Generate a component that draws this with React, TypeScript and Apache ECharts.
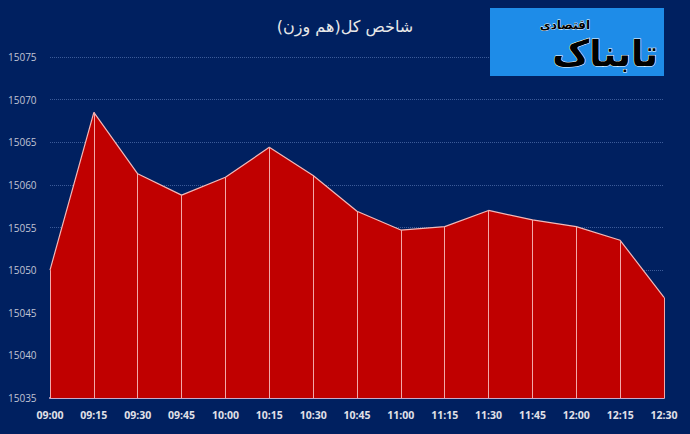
import React, { useEffect, useRef } from "react";
import * as echarts from "echarts";

const TITLE = "شاخص کل(هم وزن)";
const LOGO_MAIN = "تابناک";
const LOGO_SUB = "اقتصادی";
const times = ["09:00", "09:15", "09:30", "09:45", "10:00", "10:15", "10:30", "10:45", "11:00", "11:15", "11:30", "11:45", "12:00", "12:15", "12:30"];
const values = [15050.0, 15068.5, 15061.3, 15058.8, 15060.9, 15064.4, 15061.1, 15056.9, 15054.7, 15055.1, 15057.0, 15055.9, 15055.1, 15053.5, 15046.8];
const yMin = 15035;
const yMax = 15075;
const yStep = 5;

export default function App() {
  const ref = useRef<HTMLDivElement>(null);
  useEffect(() => {
    document.body.style.margin = "0";
    const chart = echarts.init(ref.current!, null, { renderer: "svg" });
    const dropLines = values.map((v, i) => [
      { coord: [i, yMin] },
      { coord: [i, v] },
    ]);
    chart.setOption({
      animation: false,
      backgroundColor: "#002060",
      title: {
        text: TITLE,
        left: 340,
        textAlign: "center",
        top: 13,
        textStyle: { color: "#E8E8E8", fontSize: 16, fontWeight: "normal", fontFamily: "DejaVu Sans" },
      },
      grid: { left: 50, right: 26, top: 57, bottom: 36 },
      xAxis: {
        type: "category",
        data: times,
        boundaryGap: false,
        axisLine: { lineStyle: { color: "#C8A8C8", width: 2 } },
        axisTick: { show: false },
        axisLabel: { color: "#E0E0E8", fontSize: 10.5, fontWeight: "bold", margin: 11, fontFamily: "Open Sans" },
        splitLine: { show: false },
      },
      yAxis: {
        type: "value",
        min: yMin,
        max: yMax,
        interval: yStep,
        axisLine: { show: false },
        axisTick: { show: false },
        axisLabel: {
          color: "#C0C4D4",
          fontSize: 10,
          align: "left",
          margin: 42,
          fontFamily: "Open Sans",
          formatter: (v: number) => String(v),
        },
        splitLine: { lineStyle: { color: "rgba(110,140,200,0.55)", type: [1, 1], width: 1 } },
      },
      series: [
        {
          type: "line",
          data: values,
          symbol: "none",
          lineStyle: { color: "#F2B8B8", width: 1.2 },
          areaStyle: { color: "#C00000", opacity: 1, origin: "start" },
          markLine: {
            silent: true,
            symbol: "none",
            label: { show: false },
            lineStyle: { color: "#F2A8A8", width: 1, type: "solid" },
            data: dropLines,
          },
          z: 2,
        },
      ],
      graphic: [
        {
          type: "rect",
          shape: { x: 490, y: 8, width: 174, height: 68 },
          style: { fill: "#1E8CE8" },
          z: 10,
        },
        {
          type: "text",
          x: 658,
          y: 53,
          style: {
            text: LOGO_MAIN,
            fill: "#000000",
            stroke: "#FFFFFF",
            lineWidth: 1,
            fontSize: 36,
            fontWeight: "bold",
            fontFamily: "DejaVu Sans",
            align: "right",
            verticalAlign: "middle",
          },
          z: 11,
        },
        {
          type: "text",
          x: 590,
          y: 25,
          style: {
            text: LOGO_SUB,
            fill: "#000000",
            stroke: "#FFFFFF",
            lineWidth: 0.8,
            fontSize: 12,
            fontWeight: "bold",
            fontFamily: "DejaVu Sans",
            align: "right",
            verticalAlign: "middle",
          },
          z: 12,
        },
      ],
    });
    return () => chart.dispose();
  }, []);
  return <div ref={ref} style={{ width: 690, height: 434 }} />;
}
